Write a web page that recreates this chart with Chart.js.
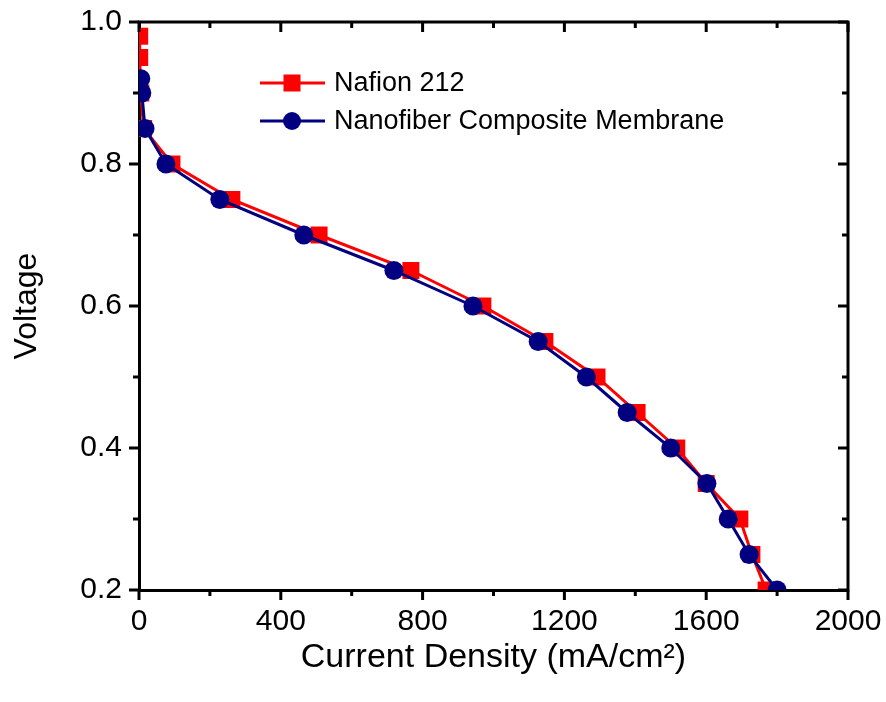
<!DOCTYPE html>
<html>
<head>
<meta charset="utf-8">
<script src="https://cdn.jsdelivr.net/npm/chart.js@4"></script>
<style>
  html, body { margin: 0; padding: 0; background: #fff; }
  #chart { display: block; }
</style>
</head>
<body>
<canvas id="chart" width="886" height="702"></canvas>
<script>
/* polarization curves: Nafion 212 vs nanofiber composite membrane */

const nafionCurrent = [2, 2, 5, 13, 93, 262, 508, 767, 970, 1145, 1292, 1405, 1517, 1600, 1695, 1729, 1769];
const nafionVoltage = [0.98, 0.95, 0.90, 0.85, 0.80, 0.75, 0.70, 0.65, 0.60, 0.55, 0.50, 0.45, 0.40, 0.35, 0.30, 0.25, 0.20];
const compositeCurrent = [5, 8, 17, 76, 228, 465, 719, 942, 1126, 1262, 1377, 1500, 1602, 1662, 1721, 1800];
const compositeVoltage = [0.92, 0.90, 0.85, 0.80, 0.75, 0.70, 0.65, 0.60, 0.55, 0.50, 0.45, 0.40, 0.35, 0.30, 0.25, 0.20];
const xTicks = [0, 400, 800, 1200, 1600, 2000];
const yTicks = ["0.2", "0.4", "0.6", "0.8", "1.0"];

const RED = "#ff0000", NAVY = "#000080";
const FONT = "'Liberation Sans', Arial, sans-serif";

const pts = (xs, ys) => xs.map((x, i) => ({ x, y: ys[i] }));

/* frame on top/right + all tick marks (outward on left/bottom, inward on top/right) */
const framePlugin = {
  id: "frame",
  afterDraw(chart) {
    const { ctx, chartArea: a, scales: { x, y } } = chart;
    ctx.save();
    ctx.strokeStyle = "#000"; ctx.lineWidth = 3; ctx.lineCap = "butt";
    ctx.beginPath();
    ctx.moveTo(a.left - 1.5, a.top); ctx.lineTo(a.right + 1.5, a.top);
    ctx.moveTo(a.right, a.top); ctx.lineTo(a.right, a.bottom + 1.5);
    ctx.stroke();
    ctx.beginPath();
    for (let v = 0; v <= 2000; v += 200) {
      const px = x.getPixelForValue(v), len = v % 400 === 0 ? 10 : 6;
      ctx.moveTo(px, a.bottom); ctx.lineTo(px, a.bottom + len);
      ctx.moveTo(px, a.top); ctx.lineTo(px, a.top + len);
    }
    for (let k = 2; k <= 10; k++) {
      const py = y.getPixelForValue(k / 10), len = k % 2 === 0 ? 10 : 6;
      ctx.moveTo(a.left, py); ctx.lineTo(a.left - len, py);
      ctx.moveTo(a.right, py); ctx.lineTo(a.right - len, py);
    }
    ctx.stroke();
    ctx.restore();
  },
};

/* legend: line + marker + label, inside the plot */
const legendPlugin = {
  id: "lineLegend",
  afterDraw(chart) {
    const { ctx } = chart;
    const rows = [chart.data.datasets[1], chart.data.datasets[0]];
    ctx.save();
    ctx.font = `27px ${FONT}`;
    ctx.textBaseline = "middle";
    rows.forEach((ds, i) => {
      const yy = 83 + i * 38;
      ctx.strokeStyle = ds.borderColor; ctx.lineWidth = 3;
      ctx.beginPath(); ctx.moveTo(260, yy); ctx.lineTo(325, yy); ctx.stroke();
      ctx.fillStyle = ds.pointBackgroundColor;
      if (ds.pointStyle === "rect") ctx.fillRect(292 - 8.5, yy - 8.5, 17, 17);
      else { ctx.beginPath(); ctx.arc(292, yy, 9, 0, Math.PI * 2); ctx.fill(); }
      ctx.fillStyle = "#000";
      ctx.fillText(ds.label, 334, yy + 1);
    });
    ctx.restore();
  },
};

new Chart(document.getElementById("chart"), {
  type: "line",
  data: {
    datasets: [
      {
        label: "Nanofiber Composite Membrane",
        data: pts(compositeCurrent, compositeVoltage),
        borderColor: NAVY, backgroundColor: NAVY,
        pointBackgroundColor: NAVY, pointBorderWidth: 0,
        pointStyle: "circle", pointRadius: 9.5, borderWidth: 3,
        order: 0,
      },
      {
        label: "Nafion 212",
        data: pts(nafionCurrent, nafionVoltage),
        borderColor: RED, backgroundColor: RED,
        pointBackgroundColor: RED, pointBorderWidth: 0,
        pointStyle: "rect", pointRadius: 12, borderWidth: 3,
        order: 1,
      },
    ],
  },
  options: {
    responsive: false,
    animation: false,
    layout: { padding: { top: 22, right: 38, left: 0, bottom: 0 } },
    plugins: { legend: { display: false }, tooltip: { enabled: false } },
    scales: {
      x: {
        type: "linear", min: 0, max: 2000,
        afterFit: (s) => { s.height = 112; },
        afterBuildTicks: (s) => { s.ticks = xTicks.map((v) => ({ value: v })); },
        grid: { display: false, drawTicks: true, tickLength: 14 },
        border: { display: true, width: 3, color: "#000" },
        ticks: { color: "#000", padding: 0, maxRotation: 0, font: { family: FONT, size: 30 },
                 callback: (v) => String(v) },
        title: { display: true, text: "Current Density (mA/cm²)", color: "#000",
                 font: { family: FONT, size: 34 }, padding: { top: 0, bottom: 24 } },
      },
      y: {
        type: "linear", min: 0.2, max: 1.0,
        afterFit: (s) => { s.width = 139; },
        afterBuildTicks: (s) => { s.ticks = yTicks.map((t) => ({ value: parseFloat(t) })); },
        grid: { display: false, drawTicks: true, tickLength: 16 },
        border: { display: true, width: 3, color: "#000" },
        ticks: { color: "#000", padding: 1, font: { family: FONT, size: 30 },
                 callback: (v) => v.toFixed(1) },
        title: { display: true, text: "Voltage", color: "#000",
                 font: { family: FONT, size: 32 }, padding: { top: 8, bottom: 0 } },
      },
    },
  },
  plugins: [framePlugin, legendPlugin],
});
</script>
</body>
</html>
